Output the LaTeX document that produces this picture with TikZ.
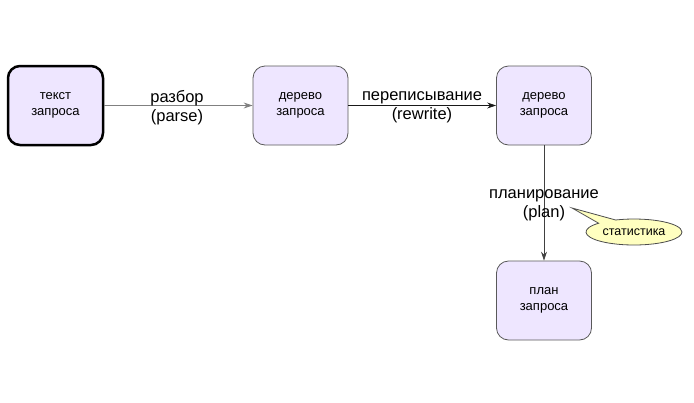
\documentclass[tikz,border=0pt]{standalone}
\usepackage{fontspec}
\setmainfont{Liberation Sans}
\usetikzlibrary{arrows.meta,shapes.callouts}
\begin{document}
\begin{tikzpicture}[x=1pt,y=-1pt,
  box/.style={draw=black!65,line width=0.8pt,fill=boxfill,rounded corners=12pt,
    minimum width=95pt,minimum height=79pt,align=center,font=\fontsize{13}{15.5}\selectfont,inner sep=0pt},
  conn/.style={-{Stealth[length=9pt,width=6pt]},line width=0.8pt},
  lbl/.style={font=\fontsize{16.5}{19}\selectfont,align=center,inner sep=0pt}]
\definecolor{boxfill}{HTML}{EEE6FF}
\definecolor{callfill}{HTML}{FFFFC0}
\useasboundingbox (0,0) rectangle (694,402);
\node[box,line width=2.5pt,draw=black] (t) at (55.5,105.5) {текст\\запроса};
\node[box] (d1) at (300.5,105.5) {дерево\\запроса};
\node[box] (d2) at (544,105.5) {дерево\\запроса};
\node[box] (p) at (544,300.5) {план\\запроса};
\draw[conn,draw=black!50] (t) -- (d1);
\draw[conn,draw=black!90] (d1) -- (d2);
\draw[conn,draw=black!75] (d2) -- (p);
\node[lbl] (l1) at (177,107.5) {разбор\\(parse)};
\node[lbl] (l2) at (422,107.5) {переписывание\\(rewrite)};
\node[lbl] (l3) at (544,205.5) {планирование\\(plan)};
\coordinate (tip) at (572,208);
\node[ellipse callout,draw=black!70,line width=0.8pt,fill=callfill,minimum width=96pt,minimum height=26pt,
  callout pointer arc=25,inner sep=0pt,font=\fontsize{12.5}{14}\selectfont,callout absolute pointer={(tip)}] (s) at (634,232) {статистика};
\end{tikzpicture}
\end{document}
